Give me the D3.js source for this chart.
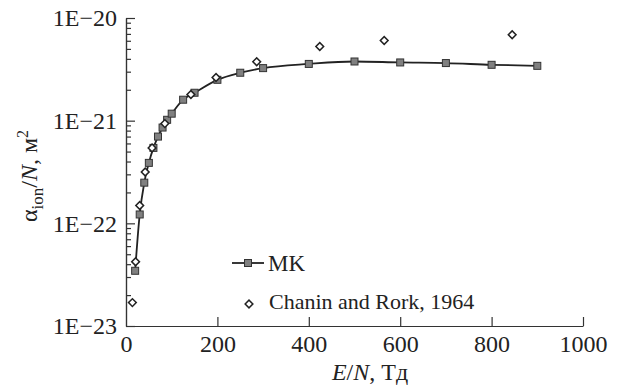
<!DOCTYPE html>
<html>
<head>
<meta charset="utf-8">
<script src="https://cdn.jsdelivr.net/npm/d3@7"></script>
<style>
  body { margin: 0; background: #fff; }
  .axis path, .axis line { stroke: #333; stroke-width: 1.2; }
</style>
</head>
<body>
<svg id="chart" width="621" height="387"></svg>
<script>
// MK calculation (squares + line)
const mkE = [20, 30, 40, 50, 60, 70, 80, 90, 100, 125, 150, 200, 250, 300, 400, 500, 600, 700, 800, 900];
const mkAlpha = [3.45e-23, 1.22e-22, 2.49e-22, 3.88e-22, 5.43e-22, 7.0e-22, 8.57e-22, 1.02e-21, 1.17e-21,
  1.6e-21, 1.87e-21, 2.5e-21, 2.93e-21, 3.25e-21, 3.57e-21, 3.77e-21, 3.69e-21, 3.64e-21, 3.5e-21, 3.42e-21];

// Chanin and Rork, 1964 (diamonds)
const crE = [14, 21, 30, 42, 57, 85, 142, 197, 286, 424, 565, 845];
const crAlpha = [1.69e-23, 4.22e-23, 1.49e-22, 3.16e-22, 5.43e-22, 9.37e-22, 1.8e-21, 2.63e-21, 3.75e-21,
  5.28e-21, 6.04e-21, 6.87e-21];

const xTicks = [0, 200, 400, 600, 800, 1000];
const yTicks = [1e-23, 1e-22, 1e-21, 1e-20];

const mk = mkE.map((e, i) => ({ e: e, a: mkAlpha[i] }));
const cr = crE.map((e, i) => ({ e: e, a: crAlpha[i] }));

const FONT = "'Times New Roman', 'Liberation Serif', serif";
const svg = d3.select('#chart');

const x = d3.scaleLinear().domain([0, 1000]).range([126, 583]);
const y = d3.scaleLog().domain([1e-23, 1e-20]).range([326, 18]);

// minor ticks on y (2..9 per decade)
const minor = [];
[-23, -22, -21].forEach(p => {
  for (let k = 2; k <= 9; k++) minor.push(k * Math.pow(10, p));
});

svg.append('g')
  .attr('class', 'axis')
  .attr('transform', `translate(${x(0)},0)`)
  .call(d3.axisLeft(y).tickValues(minor).tickSizeInner(-5).tickSizeOuter(0).tickFormat(''));

const yAxis = svg.append('g')
  .attr('class', 'axis')
  .attr('transform', `translate(${x(0)},0)`)
  .call(d3.axisLeft(y).tickValues(yTicks).tickSizeInner(-9).tickSizeOuter(0).tickPadding(9)
    .tickFormat(d => '1E\u2212' + Math.round(-Math.log10(d))));
yAxis.selectAll('text')
  .style('font-family', FONT).style('font-size', '24px').attr('fill', '#222');

const xAxis = svg.append('g')
  .attr('class', 'axis')
  .attr('transform', `translate(0,${y(1e-23)})`)
  .call(d3.axisBottom(x).tickValues(xTicks).tickSizeInner(-9).tickSizeOuter(0).tickPadding(9)
    .tickFormat(d3.format('d')));
xAxis.selectAll('text')
  .style('font-family', FONT).style('font-size', '24px').attr('fill', '#222');
xAxis.selectAll('.tick').filter(d => d === 0).select('line').remove();

// axis titles
svg.append('text')
  .attr('x', 370)
  .attr('y', 380)
  .attr('text-anchor', 'middle')
  .attr('fill', '#222')
  .style('font-family', FONT)
  .style('font-size', '24px')
  .html('<tspan font-style="italic">E</tspan>/<tspan font-style="italic">N</tspan>, Тд');

svg.append('text')
  .attr('transform', 'translate(37,176) rotate(-90)')
  .attr('text-anchor', 'middle')
  .attr('fill', '#222')
  .style('font-family', FONT)
  .style('font-size', '24px')
  .html('α<tspan dy="6" font-size="17">ion</tspan><tspan dy="-6">/</tspan><tspan font-style="italic">N</tspan>, м<tspan dy="-9" font-size="16">2</tspan>');

// MK line
const line = d3.line()
  .x(d => x(d.e))
  .y(d => y(d.a))
  .curve(d3.curveMonotoneX);

svg.append('path')
  .datum(mk)
  .attr('d', line)
  .attr('fill', 'none')
  .attr('stroke', '#222')
  .attr('stroke-width', 1.8);

const sq = 7;
svg.selectAll('.mk')
  .data(mk)
  .enter().append('rect')
  .attr('class', 'mk')
  .attr('x', d => x(d.e) - sq / 2)
  .attr('y', d => y(d.a) - sq / 2)
  .attr('width', sq)
  .attr('height', sq)
  .attr('fill', '#808080')
  .attr('stroke', '#333')
  .attr('stroke-width', 1);

const diamond = d3.symbol().type(d3.symbolSquare).size(30);
svg.selectAll('.cr')
  .data(cr)
  .enter().append('path')
  .attr('class', 'cr')
  .attr('d', diamond)
  .attr('transform', d => `translate(${x(d.e)},${y(d.a)}) rotate(45)`)
  .attr('fill', '#fff')
  .attr('stroke', '#222')
  .attr('stroke-width', 1.5);

// legend
const lg = svg.append('g');
lg.append('line')
  .attr('x1', 232).attr('x2', 264)
  .attr('y1', 263).attr('y2', 263)
  .attr('stroke', '#222').attr('stroke-width', 1.8);
lg.append('rect')
  .attr('x', 248 - sq / 2).attr('y', 263 - sq / 2)
  .attr('width', sq).attr('height', sq)
  .attr('fill', '#808080').attr('stroke', '#333');
lg.append('text')
  .attr('x', 268).attr('y', 271)
  .attr('fill', '#222')
  .style('font-family', FONT)
  .style('font-size', '23px')
  .text('MK');
lg.append('path')
  .attr('d', diamond)
  .attr('transform', 'translate(249,304) rotate(45)')
  .attr('fill', '#fff').attr('stroke', '#222').attr('stroke-width', 1.5);
lg.append('text')
  .attr('x', 269).attr('y', 309)
  .attr('fill', '#222')
  .style('font-family', FONT)
  .style('font-size', '22px')
  .text('Chanin and Rork, 1964');
</script>
</body>
</html>
